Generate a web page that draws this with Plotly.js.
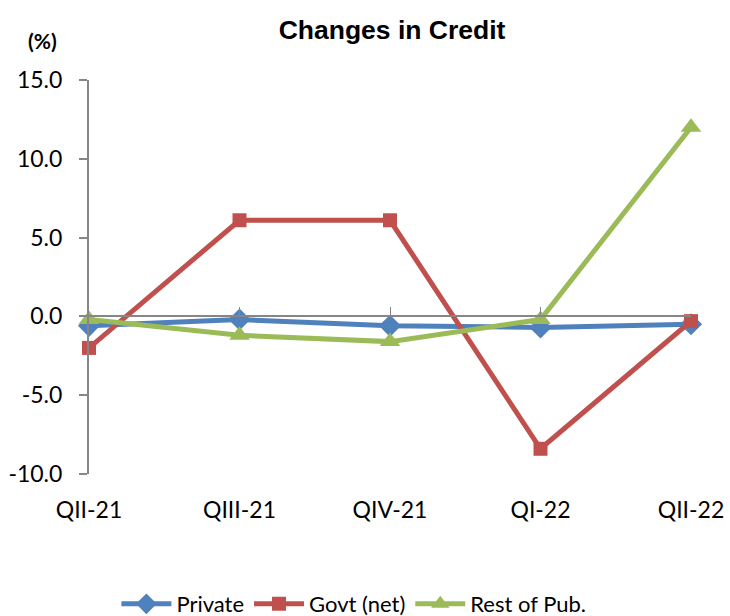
<!DOCTYPE html>
<html>
<head>
<meta charset="utf-8">
<script src="https://cdn.plot.ly/plotly-3.0.1.min.js"></script>
<style>html,body{margin:0;padding:0;background:#fff;}#chart{width:730px;height:616px;}</style>
</head>
<body>
<div id="chart"></div>
<script>
const categories = ["QII-21", "QIII-21", "QIV-21", "QI-22", "QII-22"];
const privateVals = [-0.6, -0.2, -0.6, -0.7, -0.5];
const govtVals = [-2.0, 6.1, 6.1, -8.4, -0.3];
const restVals = [-0.2, -1.2, -1.6, -0.2, 12.0];
const yTicks = [-10, -5, 0, 5, 10, 15];
const yTickText = ["-10.0", "-5.0", "0.0", "5.0", "10.0", "15.0"];

const tickFont = {family: "Lato, 'Open Sans', sans-serif", size: 23, color: "#000"};

const traces = [
  {x: categories, y: privateVals, name: "Private", type: "scatter", mode: "lines+markers", cliponaxis: false,
   line: {color: "#4F81BD", width: 5}, marker: {symbol: "diamond", size: 17, color: "#4F81BD"}},
  {x: categories, y: govtVals, name: "Govt (net)", type: "scatter", mode: "lines+markers", cliponaxis: false,
   line: {color: "#C0504D", width: 5}, marker: {symbol: "square", size: 14, color: "#C0504D"}},
  {x: categories, y: restVals, name: "Rest of Pub.", type: "scatter", mode: "lines+markers", cliponaxis: false,
   line: {color: "#9BBB59", width: 5}, marker: {symbol: "triangle-up", size: 18, color: "#9BBB59"}}
];

const layout = {
  width: 730, height: 616,
  margin: {l: 89, r: 39, t: 80, b: 142, autoexpand: false},
  paper_bgcolor: "#fff", plot_bgcolor: "#fff",
  title: {text: "<b>Changes in Credit</b>", font: {family: "'Liberation Sans', Arial, sans-serif", size: 26.5, color: "#000"},
          x: 0.537, xanchor: "center", y: 0.952, yanchor: "middle"},
  showlegend: true,
  legend: {orientation: "h", x: 0.44, xanchor: "center", y: -0.33, yanchor: "middle",
           font: {family: "Lato, 'Open Sans', sans-serif", size: 22, color: "#000"}, itemwidth: 50, tracegroupgap: 0},
  xaxis: {
    type: "category", range: [0, 4], anchor: "free", position: 0.4, automargin: false,
    showline: true, linecolor: "#868686", linewidth: 2,
    ticks: "inside", ticklen: 8, tickwidth: 1, tickcolor: "#868686",
    showgrid: false, zeroline: false,
    tickfont: tickFont, ticklabelstandoff: 173
  },
  yaxis: {
    range: [-10, 15], tickvals: yTicks, ticktext: yTickText, automargin: false,
    showline: true, linecolor: "#868686", linewidth: 2,
    ticks: "outside", ticklen: 8, tickwidth: 2, tickcolor: "#868686",
    showgrid: false, zeroline: false,
    tickfont: tickFont, ticklabelstandoff: 12
  },
  annotations: [
    {text: "<b>(%)</b>", xref: "paper", yref: "paper", x: -0.078, y: 1.1, xanchor: "center", yanchor: "middle",
     showarrow: false, font: {family: "Lato, 'Open Sans', sans-serif", size: 21, color: "#000"}}
  ]
};

Plotly.newPlot("chart", traces, layout, {displayModeBar: false, staticPlot: true});
</script>
</body>
</html>
